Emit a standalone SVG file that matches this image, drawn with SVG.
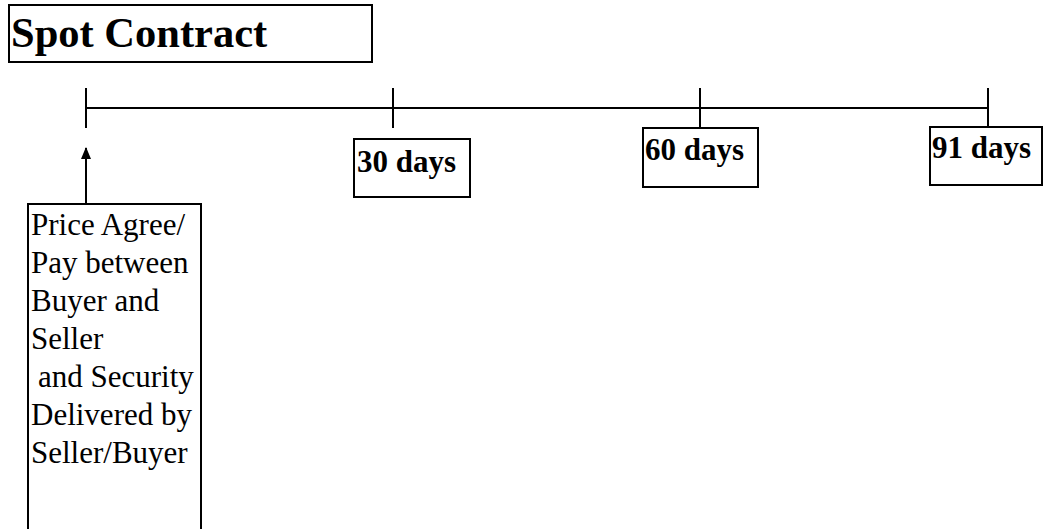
<svg xmlns="http://www.w3.org/2000/svg" width="1045" height="529" viewBox="0 0 1045 529">
<style>
.box{fill:#fff;stroke:#000;stroke-width:2}
.ln{stroke:#000;stroke-width:2;fill:none}
.b{font-family:"Liberation Serif",serif;font-weight:bold;fill:#000}
.r{font-family:"Liberation Serif",serif;font-size:31px;fill:#000}
</style>
<defs>
<marker id="ah" markerWidth="12" markerHeight="10" refX="11" refY="5" orient="auto" markerUnits="userSpaceOnUse" viewBox="0 0 12 10">
<path d="M0,0 L12,5 L0,10 Z" fill="#000"/>
</marker>
</defs>
<rect width="1045" height="529" fill="#fff"/>
<g id="title">
<rect class="box" x="9" y="5" width="363" height="57"/>
<text class="b" x="11" y="47" font-size="42.5">Spot Contract</text>
</g>
<g id="connectors">
<line class="ln" x1="86" y1="108" x2="988" y2="108"/>
<line class="ln" x1="86" y1="88" x2="86" y2="128"/>
<line class="ln" x1="393" y1="88" x2="393" y2="128"/>
<line class="ln" x1="700" y1="88" x2="700" y2="128"/>
<line class="ln" x1="988" y1="88" x2="988" y2="127"/>
<line class="ln" x1="86" y1="204" x2="86" y2="148" marker-end="url(#ah)"/>
</g>
<g id="d30">
<rect class="box" x="354" y="139" width="116" height="58"/>
<text class="b" x="357" y="172" font-size="31">30 days</text>
</g>
<g id="d60">
<rect class="box" x="643" y="128" width="115" height="59"/>
<text class="b" x="645" y="160" font-size="31">60 days</text>
</g>
<g id="d91">
<rect class="box" x="930" y="127" width="112" height="58"/>
<text class="b" x="932" y="158" font-size="31">91 days</text>
</g>
<g id="start">
<rect class="box" x="28" y="204" width="173" height="340"/>
<text class="r">
<tspan x="31" y="235">Price Agree/</tspan>
<tspan x="31" y="273">Pay between</tspan>
<tspan x="31" y="311">Buyer and</tspan>
<tspan x="31" y="349">Seller</tspan>
<tspan x="38" y="387">and Security</tspan>
<tspan x="31" y="425">Delivered by</tspan>
<tspan x="31" y="463">Seller/Buyer</tspan>
</text>
</g>
</svg>
